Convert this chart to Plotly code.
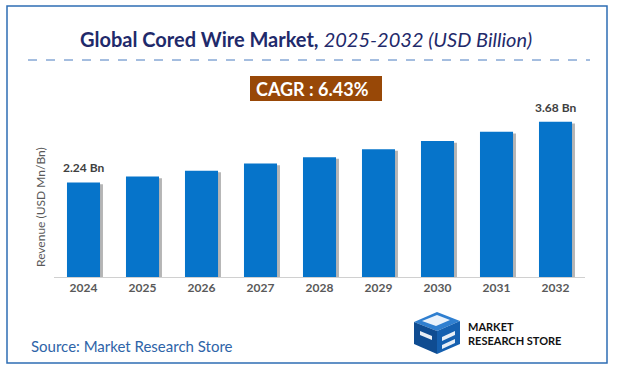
import plotly.graph_objects as go

years = ["2024", "2025", "2026", "2027", "2028", "2029", "2030", "2031", "2032"]
revenue = [2.24, 2.38, 2.52, 2.69, 2.84, 3.03, 3.22, 3.44, 3.68]
label_text = ["2.24 Bn", "", "", "", "", "", "", "", "3.68 Bn"]
title_main = "Global Cored Wire Market,"
title_sub = "2025-2032 (USD Billion)"
cagr_text = "CAGR : 6.43%"
y_title = "Revenue (USD Mn/Bn)"
source_text = "Source: Market Research Store"
logo_text = "MARKET<br>RESEARCH STORE"

W, H = 617, 373
ML, MR, MT, MB = 54, 32, 100, 96
PW, PH = W - ML - MR, H - MT - MB
FONT = "Lato"

def px(x):
    return (x - ML) / PW

def py(y):
    return (H - MB - y) / PH

BAR_W = 0.56
shadow_shift = 0.05
fig = go.Figure()
fig.add_trace(go.Bar(
    x=list(range(len(years))), y=[v - 0.04 for v in revenue],
    width=BAR_W, offset=-BAR_W / 2 + shadow_shift,
    marker=dict(color="rgba(90,90,90,0.45)", line=dict(width=0)),
    hoverinfo="skip", showlegend=False))
fig.add_trace(go.Bar(
    x=list(range(len(years))), y=revenue,
    width=BAR_W, offset=-BAR_W / 2,
    marker=dict(color="#0674CA", line=dict(width=0)),
    showlegend=False))

for i, (v, t) in enumerate(zip(revenue, label_text)):
    if t:
        fig.add_annotation(x=i, y=v, text="<b>" + t + "</b>", showarrow=False,
                           yanchor="bottom", yshift=5,
                           font=dict(family=FONT, size=12, color="#404040"))

shapes = []
shapes.append(dict(type="rect", xref="paper", yref="paper",
                   x0=px(7), x1=px(607), y0=py(363), y1=py(6),
                   line=dict(color="#2E6DB4", width=1.5), layer="below"))
shapes.append(dict(type="line", xref="paper", yref="paper",
                   x0=px(28), x1=px(590), y0=py(60), y1=py(60),
                   line=dict(color="#4A7CC0", width=1, dash="dash")))
shapes.append(dict(type="rect", xref="paper", yref="paper",
                   x0=px(250), x1=px(382), y0=py(101), y1=py(76),
                   fillcolor="#984807", line=dict(width=0)))

def path(pts):
    return "M " + " L ".join(f"{px(a)},{py(b)}" for a, b in pts) + " Z"

logo_parts = [
    ([(414, 322), (437, 312), (460, 321), (437, 331)], "#2F7FD0"),
    ([(414, 322), (437, 331), (437, 354), (414, 344)], "#0F4C91"),
    ([(437, 331), (460, 321), (460, 344), (437, 354)], "#1560B0"),
    ([(422, 321), (437, 315), (450, 320), (436, 326)], "rgba(255,255,255,0.9)"),
    ([(420, 331), (432, 336), (432, 340), (420, 335)], "rgba(255,255,255,0.9)"),
    ([(442, 337), (455, 331), (455, 335), (442, 341)], "rgba(255,255,255,0.9)"),
    ([(442, 345), (455, 339), (455, 343), (442, 349)], "rgba(255,255,255,0.9)"),
]
for pts, col in logo_parts:
    shapes.append(dict(type="path", xref="paper", yref="paper", path=path(pts),
                       fillcolor=col, line=dict(width=0)))

ann = [
    dict(x=px(306), y=py(39), text=f"<b>{title_main}</b> <i>{title_sub}</i>",
         xanchor="center", font=dict(family=FONT, size=20, color="#1F2A6B")),
    dict(x=px(312), y=py(88.5), text=f"<b>{cagr_text}</b>",
         xanchor="center", font=dict(family=FONT, size=18, color="white")),
    dict(x=px(29), y=py(346), text=source_text,
         xanchor="left", font=dict(family=FONT, size=15, color="#2E64A8")),
    dict(x=px(466), y=py(333), text=f"<b>{logo_text}</b>", align="left",
         xanchor="left", font=dict(family=FONT, size=11, color="#111111")),
    dict(x=px(40), y=py(207), text=y_title, textangle=-90,
         xanchor="center", font=dict(family=FONT, size=12, color="#595959")),
]
for a in ann:
    fig.add_annotation(xref="paper", yref="paper", showarrow=False,
                       yanchor="middle", **a)

fig.update_layout(
    width=W, height=H,
    margin=dict(l=ML, r=MR, t=MT, b=MB, pad=0),
    paper_bgcolor="white", plot_bgcolor="white",
    barmode="overlay", bargap=0.44,
    shapes=shapes,
    font=dict(family=FONT),
    hovermode=False,
    xaxis=dict(tickmode="array", tickvals=list(range(len(years))),
               ticktext=["<b>" + y + "</b>" for y in years],
               range=[-0.5, len(years) - 0.5],
               showgrid=False, zeroline=False, showline=True,
               linecolor="#D0D0D0", linewidth=1, ticks="", ticklen=0,
               tickfont=dict(family=FONT, size=12, color="#595959")),
    yaxis=dict(range=[0, PH / 42.2], showgrid=False, zeroline=False,
               showticklabels=False, showline=False),
)
fig.write_html("out.html", config={"displayModeBar": False},
               post_script="document.body.style.margin='0';")
